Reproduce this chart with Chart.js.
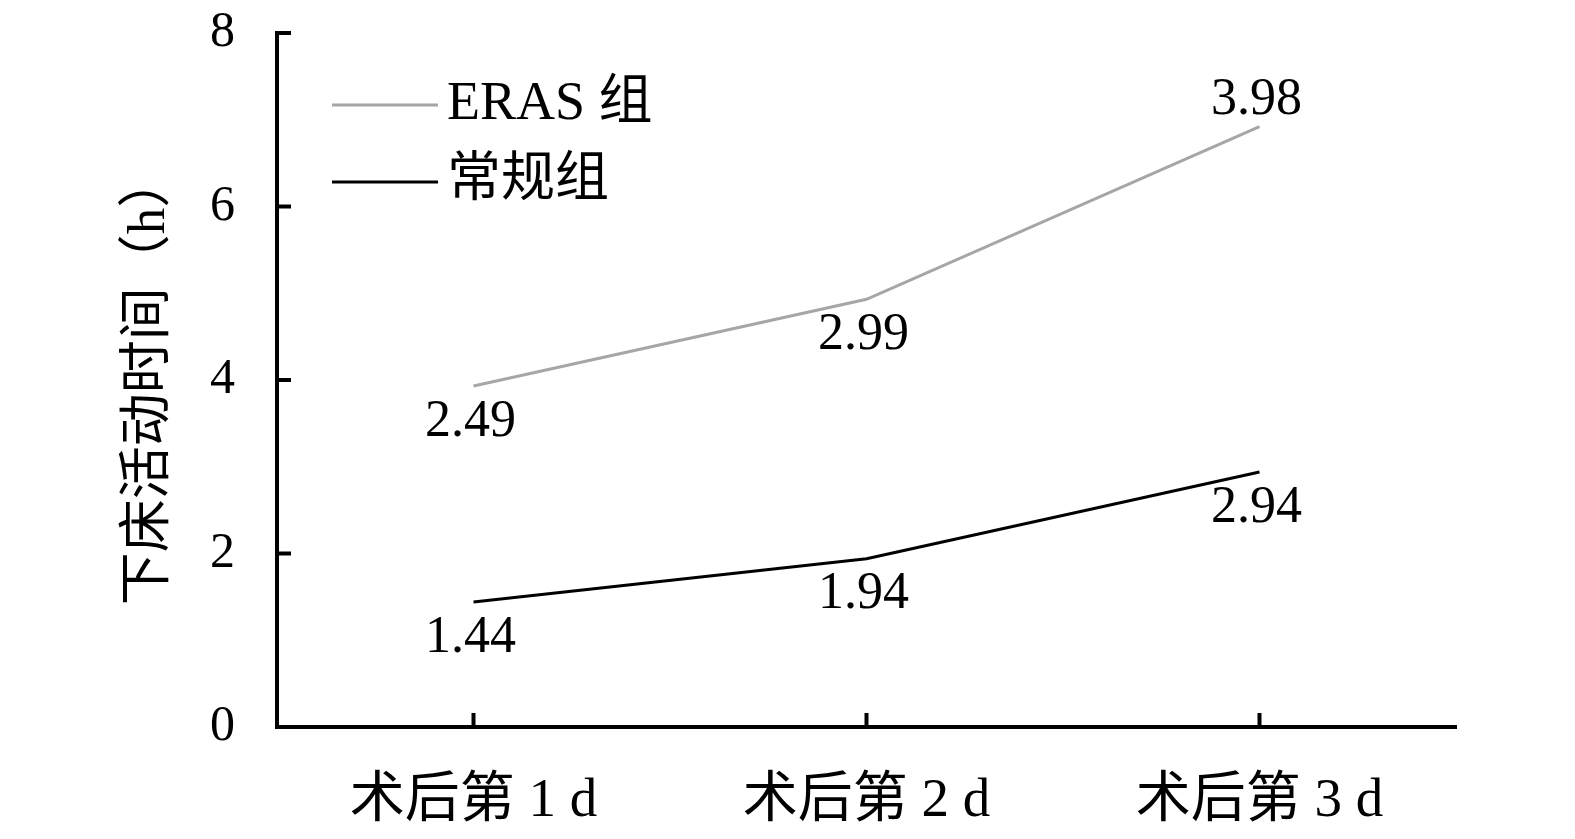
<!DOCTYPE html>
<html>
<head>
<meta charset="utf-8">
<script src="https://cdn.jsdelivr.net/npm/chart.js@4/dist/chart.umd.min.js"></script>
<style>
  html, body { margin: 0; padding: 0; background: #fff; }
  #wrap { width: 1575px; height: 839px; }
</style>
</head>
<body>
<div id="wrap"><canvas id="c" width="1575" height="839"></canvas></div>
<script>
  // 下床活动时间 - ERAS 组 vs 常规组 (stacked line, as in the original figure)
  var categories = ['术后第 1 d', '术后第 2 d', '术后第 3 d'];
  var erasValues = [2.49, 2.99, 3.98];
  var routineValues = [1.44, 1.94, 2.94];
  var yTicks = [0, 2, 4, 6, 8];

  var FONT = "'Liberation Serif', 'Noto Sans CJK SC', serif";
  var GRAY = '#A6A6A6';

  // label placement per point: 1 = below line, -1 = above
  var erasSide = [1, 1, -1];
  var routineSide = [1, 1, 1];

  var extras = {
    id: 'extras',
    afterDraw: function (chart) {
      var ctx = chart.ctx;
      var area = chart.chartArea;
      var xs = chart.scales.x, ys = chart.scales.y;
      ctx.save();
      ctx.strokeStyle = '#000';
      ctx.lineWidth = 4;
      // inward ticks on y
      yTicks.forEach(function (v) {
        var y = ys.getPixelForValue(v);
        ctx.beginPath(); ctx.moveTo(area.left, y); ctx.lineTo(area.left + 14, y); ctx.stroke();
      });
      // inward ticks on x
      categories.forEach(function (c, i) {
        var x = xs.getPixelForValue(i);
        ctx.beginPath(); ctx.moveTo(x, area.bottom); ctx.lineTo(x, area.bottom - 14); ctx.stroke();
      });

      // value labels
      ctx.fillStyle = '#000';
      ctx.font = '52px ' + FONT;
      ctx.textAlign = 'center';
      ctx.textBaseline = 'middle';
      chart.data.datasets.forEach(function (ds, di) {
        var meta = chart.getDatasetMeta(di);
        var sides = ds.label === 'ERAS 组' ? erasSide : routineSide;
        meta.data.forEach(function (pt, i) {
          var dy = sides[i] > 0 ? 36 : -26;
          ctx.fillText(ds.data[i].toFixed(2), pt.x - 3, pt.y + dy);
        });
      });

      // legend
      var items = [chart.data.datasets[1], chart.data.datasets[0]];
      ctx.textAlign = 'left';
      ctx.font = '54px ' + FONT;
      items.forEach(function (ds, k) {
        var y = area.top + 72 + k * 77;
        ctx.strokeStyle = ds.borderColor;
        ctx.lineWidth = 3;
        ctx.beginPath(); ctx.moveTo(area.left + 55, y); ctx.lineTo(area.left + 161, y); ctx.stroke();
        ctx.fillStyle = '#000';
        ctx.fillText(ds.label, area.left + 170, y);
      });
      ctx.restore();
    }
  };

  new Chart(document.getElementById('c').getContext('2d'), {
    type: 'line',
    data: {
      labels: categories,
      datasets: [
        { label: '常规组', data: routineValues, borderColor: '#000', borderWidth: 3, pointRadius: 0, tension: 0, fill: false },
        { label: 'ERAS 组', data: erasValues, borderColor: GRAY, borderWidth: 3, pointRadius: 0, tension: 0, fill: false }
      ]
    },
    options: {
      responsive: false, animation: false,
      layout: { padding: { top: 33, right: 119, left: 0, bottom: 0 } },
      plugins: { legend: { display: false }, tooltip: { enabled: false } },
      scales: {
        x: {
          offset: true,
          grid: { display: false, drawTicks: false },
          border: { display: true, color: '#000', width: 4 },
          ticks: { color: '#000', padding: 42, font: { family: FONT, size: 55 } },
          afterFit: function (s) { s.height = 112; s.paddingLeft = 0; s.paddingRight = 0; }
        },
        y: {
          stacked: true, min: 0, max: 8,
          grid: { display: false, drawTicks: false },
          border: { display: true, color: '#000', width: 4 },
          ticks: { stepSize: 2, color: '#000', padding: 42, font: { family: FONT, size: 50 } },
          title: { display: true, text: '下床活动时间（h）', color: '#000', padding: { top: 118, bottom: 0 }, font: { family: FONT, size: 53 } },
          afterFit: function (s) { s.width = 277; s.paddingTop = 0; s.paddingBottom = 0; }
        }
      }
    },
    plugins: [extras]
  });
</script>
</body>
</html>
